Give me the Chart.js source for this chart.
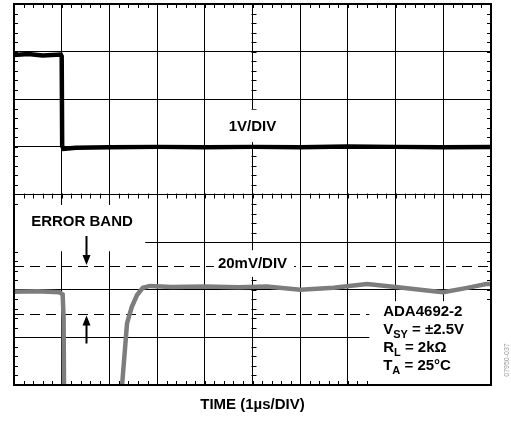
<!DOCTYPE html>
<html>
<head>
<meta charset="utf-8">
<script src="https://cdn.jsdelivr.net/npm/chart.js@4.4.1/dist/chart.umd.min.js"></script>
<style>
    body { margin: 0; background: #fff; }
    #wrap { width: 511px; height: 421px; position: relative; }
</style>
</head>
<body>
<div id="wrap"><canvas id="scope"></canvas></div>
<script>
// all values in scope divisions (x: 1us/div, y: centre of screen = 0)
const stepTime = [0, 0.3, 0.6, 0.98, 1.0, 1.01, 1.04, 1.3, 2, 3, 4, 5, 6, 7, 8, 9, 10];
const stepLevel = [2.93, 2.95, 2.92, 2.94, 2.9, 1.02, 0.96, 0.98, 0.99, 1.0, 0.99, 1.0, 0.99, 1.01, 1.0, 0.99, 1.0];

const errTime = [0, 0.5, 0.95, 1.02, 1.04, 1.05, 1.6, 2.24, 2.27, 2.37, 2.47, 2.58, 2.70, 2.85, 3.3, 4, 4.7, 5.3, 6.0, 6.7, 7.4, 8.0, 8.8, 9.0, 9.5, 9.9, 10];
const errLevel = [-2.04, -2.03, -2.05, -2.1, -2.6, -4.3, null, -4.3, -3.95, -2.70, -2.36, -2.11, -1.96, -1.92, -1.94, -1.93, -1.95, -1.93, -2.0, -1.96, -1.88, -1.94, -2.03, -2.05, -1.96, -1.88, -1.88];

const bandLevels = [-1.5, -2.5];

function toPoints(xs, ys) {
    return xs.map(function (t, i) { return { x: t, y: ys[i] }; });
}

const FONT = '"Liberation Sans", Arial, sans-serif';

// white label boxes [x0, y0, x1, y1] in divisions
const boxes = [
    [4.36, 1.78, 5.66, 1.10],
    [4.19, -1.17, 5.87, -1.73],
    [0, -0.22, 2.75, -1.19],
    [7.45, -2.24, 10, -4]
];

const scopeDecor = {
    id: 'scopeDecor',
    beforeDatasetsDraw(chart) {
        const ctx = chart.ctx;
        const a = chart.chartArea;
        const x = chart.scales.x;
        const y = chart.scales.y;
        ctx.save();
        ctx.strokeStyle = '#000';
        ctx.lineWidth = 1;
        // minor ticks, 5 per division
        const cx = Math.round(x.getPixelForValue(5)) + 0.5;
        const cy = Math.round(y.getPixelForValue(0)) + 0.5;
        ctx.beginPath();
        for (let v = 0; v <= 10.001; v += 0.2) {
            const px = Math.round(x.getPixelForValue(v)) + 0.5;
            ctx.moveTo(px, a.top); ctx.lineTo(px, a.top + 4);
            ctx.moveTo(px, a.bottom); ctx.lineTo(px, a.bottom - 4);
            ctx.moveTo(px, cy - 2); ctx.lineTo(px, cy + 3);
        }
        for (let v = -4; v <= 4.001; v += 0.2) {
            const py = Math.round(y.getPixelForValue(v)) + 0.5;
            ctx.moveTo(a.left, py); ctx.lineTo(a.left + 4, py);
            ctx.moveTo(a.right, py); ctx.lineTo(a.right - 4, py);
            ctx.moveTo(cx - 2, py); ctx.lineTo(cx + 3, py);
        }
        ctx.stroke();
        // error band
        ctx.setLineDash([10, 6]);
        bandLevels.forEach(function (v) {
            const py = Math.round(y.getPixelForValue(v)) + 0.5;
            ctx.beginPath();
            ctx.moveTo(a.left, py);
            ctx.lineTo(a.right, py);
            ctx.stroke();
        });
        ctx.setLineDash([]);
        ctx.fillStyle = '#fff';
        boxes.forEach(function (b) {
            const x0 = x.getPixelForValue(b[0]), x1 = x.getPixelForValue(b[2]);
            const y0 = y.getPixelForValue(b[1]), y1 = y.getPixelForValue(b[3]);
            ctx.fillRect(x0, y0, x1 - x0, y1 - y0);
        });
        ctx.restore();
    },
    afterDatasetsDraw(chart) {
        const ctx = chart.ctx;
        const a = chart.chartArea;
        const x = chart.scales.x;
        const y = chart.scales.y;
        ctx.save();
        ctx.strokeStyle = '#000';
        ctx.lineWidth = 2;
        ctx.strokeRect(a.left, a.top, a.right - a.left, a.bottom - a.top);

        // arrows pointing at the band
        const ax = Math.round(x.getPixelForValue(1.5)) + 0.5;
        const up = y.getPixelForValue(bandLevels[0]);
        const lo = y.getPixelForValue(bandLevels[1]);
        ctx.fillStyle = '#000';
        ctx.lineWidth = 2;
        ctx.beginPath();
        ctx.moveTo(ax, up - 30); ctx.lineTo(ax, up - 10);
        ctx.moveTo(ax, lo + 30); ctx.lineTo(ax, lo + 10);
        ctx.stroke();
        ctx.beginPath();
        ctx.moveTo(ax - 4, up - 11); ctx.lineTo(ax + 4, up - 11); ctx.lineTo(ax, up - 1); ctx.closePath();
        ctx.moveTo(ax - 4, lo + 12); ctx.lineTo(ax + 4, lo + 12); ctx.lineTo(ax, lo + 2); ctx.closePath();
        ctx.fill();

        ctx.font = 'bold 15px ' + FONT;
        ctx.textBaseline = 'alphabetic';
        ctx.textAlign = 'center';
        ctx.fillText('1V/DIV', x.getPixelForValue(5), y.getPixelForValue(1.44) + 5.5);
        ctx.fillText('20mV/DIV', x.getPixelForValue(5), y.getPixelForValue(-1.43) + 5.5);
        ctx.textAlign = 'left';
        ctx.fillText('ERROR BAND', x.getPixelForValue(0.36), y.getPixelForValue(-0.55) + 5.5);

        // conditions block
        const lx = x.getPixelForValue(7.74);
        const rows = [
            ['ADA4692-2', '', ''],
            ['V', 'SY', ' = \u00b12.5V'],
            ['R', 'L', ' = 2k\u03a9'],
            ['T', 'A', ' = 25\u00b0C']
        ];
        let by = y.getPixelForValue(-2.56);
        rows.forEach(function (r) {
            let px = lx;
            ctx.font = 'bold 15px ' + FONT;
            ctx.fillText(r[0], px, by);
            px += ctx.measureText(r[0]).width;
            if (r[1]) {
                ctx.font = 'bold 11px ' + FONT;
                ctx.fillText(r[1], px, by + 4);
                px += ctx.measureText(r[1]).width;
                ctx.font = 'bold 15px ' + FONT;
                ctx.fillText(r[2], px, by);
            }
            by += 18;
        });

        // figure id
        ctx.translate(507, 360);
        ctx.rotate(-Math.PI / 2);
        ctx.font = '7px ' + FONT;
        ctx.fillStyle = '#999';
        ctx.textAlign = 'center';
        ctx.textBaseline = 'middle';
        ctx.fillText('07950-037', 0, 0);
        ctx.restore();
    }
};

document.addEventListener("DOMContentLoaded", function () {
    const data = {
        datasets: [{
            label: '1V/DIV',
            data: toPoints(stepTime, stepLevel),
            borderColor: '#000',
            borderWidth: 4.5,
            pointRadius: 0,
            tension: 0,
        }, {
            label: '20mV/DIV',
            data: toPoints(errTime, errLevel),
            borderColor: 'rgb(125,125,125)',
            borderWidth: 4.5,
            pointRadius: 0,
            tension: 0,
            spanGaps: false,
        }]
    }
    const grid = { color: '#000', lineWidth: 1, drawTicks: false };
    const config = {
        type: 'line',
        data: data,
        plugins: [scopeDecor],
        options: {
            responsive: true,
            maintainAspectRatio: false,
            animation: false,
            layout: { padding: { left: 14, top: 4, right: 20, bottom: 7 } },
            plugins: { legend: { display: false }, tooltip: { enabled: false } },
            scales: {
                x: {
                    type: 'linear', min: 0, max: 10,
                    ticks: { display: false, stepSize: 1 },
                    grid: grid,
                    border: { display: false },
                    title: {
                        display: true, text: 'TIME (1\u00b5s/DIV)', color: '#000',
                        font: { family: FONT, size: 15, weight: 'bold' },
                        padding: { top: 11, bottom: 0 }
                    }
                },
                y: {
                    min: -4, max: 4,
                    ticks: { display: false, stepSize: 1 },
                    grid: grid,
                    border: { display: false }
                }
            }
        }
    }
    new Chart(document.getElementById('scope'), config);
})
</script>
</body>
</html>
